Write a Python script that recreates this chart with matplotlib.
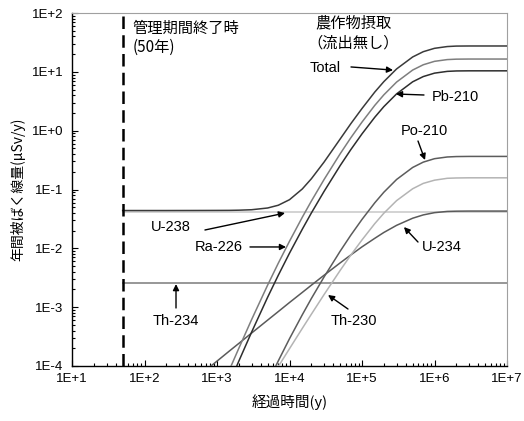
import numpy as np
import matplotlib
matplotlib.use('Agg')
import matplotlib.pyplot as plt
from matplotlib.ticker import FixedLocator, LogLocator, FuncFormatter, NullFormatter

plt.rcParams['font.family'] = ['Liberation Sans', 'DejaVu Sans']
jp = ['Noto Sans CJK JP', 'DejaVu Sans']
nan = np.nan

# elapsed time (y)
years = [50, 100, 200, 500, 1e3, 1.5e3, 2e3, 3e3, 5e3, 7e3,
         1e4, 1.5e4, 2e4, 3e4, 5e4, 7e4, 1e5, 1.5e5, 2e5, 3e5,
         5e5, 7e5, 1e6, 1.5e6, 2e6, 3e6, 5e6, 1e7]

# annual dose (uSv/y)
total = [0.0439, 0.0439, 0.0439, 0.0440, 0.0441, 0.0442, 0.0445, 0.0453, 0.0485, 0.0540,
         0.0671, 0.102, 0.152, 0.293, 0.722, 1.31, 2.38, 4.53, 6.81, 11.2,
         17.9, 22.0, 25.1, 26.9, 27.4, 27.5, 27.5, 27.5]
u238 = [0.0413] * len(years)
th234 = [0.0026] * len(years)
u234 = [6.07e-6, 1.21e-5, 2.43e-5, 6.07e-5, 1.21e-4, 1.82e-4, 2.42e-4, 3.63e-4, 6.03e-4, 8.41e-4,
        1.20e-3, 1.78e-3, 2.36e-3, 3.49e-3, 5.66e-3, 7.71e-3, 0.0106, 0.0148, 0.0186, 0.0246,
        0.0325, 0.0370, 0.0404, 0.0424, 0.0428, 0.0430, 0.0430, 0.0430]
th230 = [nan, nan, nan, nan, 2.04e-6, 4.59e-6, 8.14e-6, 1.82e-5, 5.02e-5, 9.77e-5,
         1.97e-4, 4.35e-4, 7.57e-4, 1.64e-3, 4.22e-3, 7.66e-3, 0.0139, 0.0263, 0.0395, 0.0647,
         0.103, 0.127, 0.144, 0.155, 0.157, 0.158, 0.158, 0.158]
ra226 = [nan, nan, nan, nan, 2.77e-5, 8.89e-5, 2.00e-4, 6.14e-4, 2.38e-3, 5.58e-3,
         0.0132, 0.0337, 0.0634, 0.148, 0.405, 0.755, 1.40, 2.69, 4.06, 6.70,
         10.73, 13.19, 15.08, 16.15, 16.42, 16.50, 16.5, 16.5]
pb210 = [nan, nan, nan, nan, 1.59e-5, 5.26e-5, 1.21e-4, 3.76e-4, 1.48e-3, 3.48e-3,
         8.28e-3, 0.0211, 0.0398, 0.0930, 0.255, 0.475, 0.882, 1.69, 2.56, 4.22,
         6.77, 8.31, 9.50, 10.18, 10.35, 10.40, 10.4, 10.4]
po210 = [nan, nan, nan, nan, nan, nan, nan, 1.32e-5, 5.19e-5, 1.22e-4,
         2.91e-4, 7.41e-4, 1.40e-3, 3.27e-3, 8.94e-3, 0.0167, 0.0310, 0.0594, 0.0898, 0.148,
         0.237, 0.292, 0.334, 0.357, 0.363, 0.365, 0.365, 0.365]

mgmt_end = 50  # end of management period (y)

x_ticks = [1e1, 1e2, 1e3, 1e4, 1e5, 1e6, 1e7]
y_ticks = [1e-4, 1e-3, 1e-2, 1e-1, 1e0, 1e1, 1e2]

fig = plt.figure(figsize=(5.24, 4.21), dpi=100)
ax = fig.add_axes([72 / 524, 1 - 366 / 421, 435 / 524, 353 / 421])

ax.plot(years, u238, color='#c8c8c8', lw=1.1, zorder=2)
ax.plot(years, th234, color='#7a7a7a', lw=1.1, zorder=2)
ax.plot(years, u234, color='#5a5a5a', lw=1.1, zorder=3)
ax.plot(years, th230, color='#b4b4b4', lw=1.1, zorder=3)
ax.plot(years, po210, color='#5c5c5c', lw=1.1, zorder=3)
ax.plot(years, ra226, color='#7e7e7e', lw=1.1, zorder=3)
ax.plot(years, pb210, color='#2e2e2e', lw=1.1, zorder=3)
ax.plot(years, total, color='#3a3a3a', lw=1.1, zorder=4)

ax.axvline(mgmt_end, color='black', lw=1.8, ls=(0, (5, 2.5)), zorder=5)

ax.set_xscale('log')
ax.set_yscale('log')
ax.set_xlim(x_ticks[0], x_ticks[-1])
ax.set_ylim(y_ticks[0], y_ticks[-1])

fmt = FuncFormatter(lambda v, p: '1E%+d' % int(round(np.log10(v))))
ax.xaxis.set_major_locator(FixedLocator(x_ticks))
ax.yaxis.set_major_locator(FixedLocator(y_ticks))
ax.xaxis.set_minor_locator(LogLocator(base=10, subs=np.arange(2, 10), numticks=20))
ax.yaxis.set_minor_locator(LogLocator(base=10, subs=np.arange(2, 10), numticks=20))
ax.xaxis.set_major_formatter(fmt)
ax.yaxis.set_major_formatter(fmt)
ax.xaxis.set_minor_formatter(NullFormatter())
ax.yaxis.set_minor_formatter(NullFormatter())
ax.tick_params(which='both', direction='in', top=False, right=False, labelsize=9.5, width=0.8)
ax.tick_params(which='major', length=4)
ax.tick_params(which='minor', length=2.5)
ax.tick_params(axis='x', pad=5)
ax.tick_params(axis='y', pad=6)

for s in ['top', 'right']:
    ax.spines[s].set_color('#a0a0a0')
for s in ['left', 'bottom']:
    ax.spines[s].set_color('black')
    ax.spines[s].set_linewidth(1.0)

ax.set_xlabel('経過時間(y)', family=jp, fontsize=10.5, labelpad=7)
ax.set_ylabel('年間被ばく線量(μSv/y)', family=jp, fontsize=10, labelpad=5)

# text labels
ax.text(68, 77, '管理期間終了時\n(50年)', family=jp, fontsize=11, va='top', ha='left', linespacing=1.2)
ax.text(7.6e4, 94, '農作物摂取\n（流出無し）', family=jp, fontsize=11, va='top', ha='center', linespacing=1.2)

lbl = dict(fontsize=10.5, va='center')
arr = dict(arrowstyle='-|>', color='black', lw=1.0, mutation_scale=9, shrinkA=0, shrinkB=0)

ax.text(5.13e4, 11.6, 'Total', ha='right', **lbl)
ax.annotate('', xy=(2.68e5, 10.7), xytext=(7.05e4, 12.1), arrowprops=arr)

ax.text(9.25e5, 3.73, 'Pb-210', ha='left', **lbl)
ax.annotate('', xy=(2.94e5, 4.2), xytext=(7.16e5, 4.04), arrowprops=arr)

ax.text(7.16e5, 0.986, 'Po-210', ha='center', **lbl)
ax.annotate('', xy=(7.4e5, 0.317), xytext=(5.92e5, 0.667), arrowprops=arr)

ax.text(232, 0.023, 'U-238', ha='center', **lbl)
ax.annotate('', xy=(8.67e3, 0.0398), xytext=(682, 0.0205), arrowprops=arr)

ax.text(1.07e3, 0.01055, 'Ra-226', ha='center', **lbl)
ax.annotate('', xy=(8.95e3, 0.01055), xytext=(2.85e3, 0.01055), arrowprops=arr)

ax.text(1.27e6, 0.01055, 'U-234', ha='center', **lbl)
ax.annotate('', xy=(3.79e5, 0.023), xytext=(5.92e5, 0.0128), arrowprops=arr)

ax.text(272, 5.82e-4, 'Th-234', ha='center', **lbl)
ax.annotate('', xy=(272, 2.47e-3), xytext=(272, 9.68e-4), arrowprops=arr)

ax.text(7.76e4, 5.82e-4, 'Th-230', ha='center', **lbl)
ax.annotate('', xy=(3.4e4, 1.61e-3), xytext=(6.41e4, 9.3e-4), arrowprops=arr)

fig.savefig('out.png', dpi=100)
